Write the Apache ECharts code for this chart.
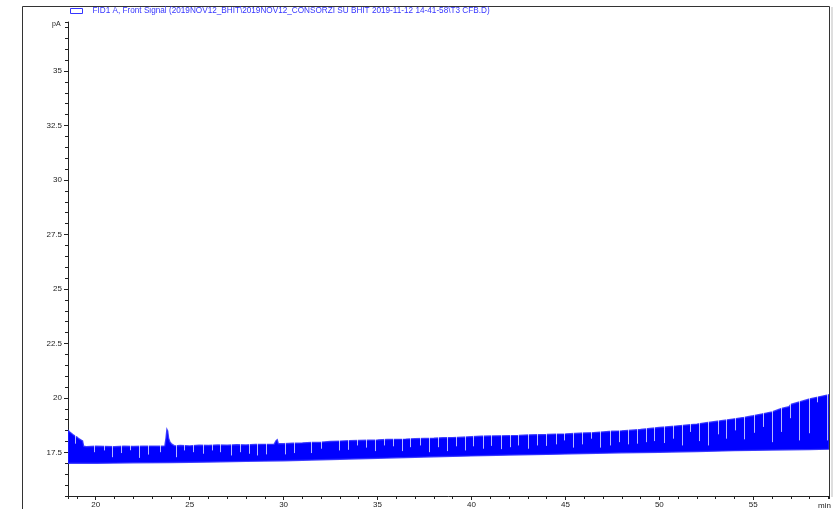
<!DOCTYPE html>
<html>
<head>
<meta charset="utf-8">
<script src="https://cdn.jsdelivr.net/npm/echarts@6/dist/echarts.min.js"></script>
<style>
  html, body { margin: 0; padding: 0; background: #ffffff; }
  #chart { width: 838px; height: 509px; }
</style>
</head>
<body>
<div id="chart"></div>
<script>
// FID1 A front signal trace, retention time in minutes vs. detector current in pA
const signalName = 'FID1 A, Front Signal (2019NOV12_BHIT\\2019NOV12_CONSORZI SU BHIT 2019-11-12 14-41-58\\T3 CFB.D)';
const timeRange = [18.525, 59.03];
const currentRange = [15.5, 37.25];

// top of the noise band [min, pA]
const upperEdge = [
  [18.525, 18.52], [18.6, 18.45], [18.7, 18.38], [18.8, 18.31], [18.9, 18.25], [19.0, 18.2],
  [19.1, 18.13], [19.2, 18.08], [19.3, 18.03], [19.36, 17.78], [19.5, 17.76], [20.0, 17.78],
  [20.5, 17.77], [21.0, 17.76], [21.5, 17.78], [22.0, 17.77], [22.5, 17.78], [23.0, 17.79],
  [23.5, 17.78], [23.68, 17.8], [23.74, 18.15], [23.79, 18.55], [23.83, 18.48], [23.88, 18.15],
  [23.95, 17.98], [24.05, 17.88], [24.2, 17.8], [24.5, 17.82], [25.0, 17.8], [25.5, 17.83],
  [26.0, 17.82], [26.5, 17.84], [27.0, 17.83], [27.5, 17.85], [28.0, 17.84], [28.5, 17.86],
  [29.0, 17.87], [29.5, 17.88], [29.6, 18.04], [29.66, 18.08], [29.72, 17.9], [30.0, 17.9],
  [30.5, 17.92], [31.0, 17.93], [31.5, 17.96], [32.0, 17.97], [32.5, 18.0], [33.0, 18.02],
  [33.5, 18.04], [34.0, 18.05], [34.5, 18.06], [35.0, 18.07], [35.5, 18.09], [36.0, 18.1],
  [36.5, 18.11], [37.0, 18.13], [37.5, 18.14], [38.0, 18.15], [38.5, 18.17], [39.0, 18.18],
  [39.5, 18.2], [40.0, 18.22], [40.5, 18.24], [41.0, 18.25], [41.5, 18.26], [42.0, 18.27],
  [42.5, 18.28], [43.0, 18.3], [43.5, 18.31], [44.0, 18.32], [44.5, 18.34], [45.0, 18.35],
  [45.5, 18.37], [46.0, 18.39], [46.5, 18.41], [47.0, 18.44], [47.5, 18.47], [48.0, 18.49],
  [48.5, 18.52], [49.0, 18.55], [49.5, 18.6], [50.0, 18.64], [50.5, 18.68], [51.0, 18.72],
  [51.5, 18.76], [52.0, 18.8], [52.5, 18.86], [53.0, 18.92], [53.5, 18.98], [54.0, 19.04],
  [54.5, 19.1], [55.0, 19.18], [55.5, 19.27], [56.0, 19.36], [56.5, 19.52], [56.9, 19.6],
  [57.0, 19.7], [57.5, 19.83], [58.0, 19.95], [58.5, 20.05], [59.03, 20.15]
];

// bottom of the noise band [min, pA]
const lowerEdge = [
  [18.525, 17.0], [20.0, 17.0], [22.0, 17.02], [24.0, 17.04], [26.0, 17.06], [28.0, 17.09],
  [30.0, 17.12], [32.0, 17.16], [34.0, 17.21], [36.0, 17.25], [38.0, 17.3], [40.0, 17.34],
  [42.0, 17.38], [44.0, 17.41], [46.0, 17.45], [48.0, 17.48], [50.0, 17.51], [52.0, 17.54],
  [54.0, 17.58], [56.0, 17.61], [58.0, 17.63], [59.03, 17.65]
];

// sampling dropouts: [min, lowest pA reached by the gap]
const dropouts = [
  [18.9, 17.9], [19.91, 17.51], [20.45, 17.59], [20.87, 17.28], [21.37, 17.47], [21.82, 17.6],
  [22.31, 17.25], [22.79, 17.4], [23.41, 17.51], [24.27, 17.28], [24.71, 17.59], [25.19, 17.51],
  [25.69, 17.44], [26.17, 17.59], [26.62, 17.51], [27.19, 17.36], [27.68, 17.51], [28.16, 17.44],
  [28.57, 17.36], [29.07, 17.41], [30.05, 17.41], [30.53, 17.47], [31.47, 17.47], [32.0, 17.67],
  [32.93, 17.59], [33.43, 17.62], [33.91, 17.82], [34.39, 17.72], [34.85, 17.56], [35.33, 17.82],
  [35.83, 17.78], [36.31, 17.56], [36.75, 17.74], [37.28, 17.82], [37.73, 17.51], [38.23, 17.74],
  [38.71, 17.56], [39.19, 17.78], [39.65, 17.59], [40.09, 17.78], [40.61, 17.67], [41.05, 17.8],
  [41.55, 17.65], [42.03, 17.74], [42.49, 17.82], [43.03, 17.67], [43.47, 17.82], [43.99, 17.8],
  [44.48, 17.87], [44.93, 18.05], [45.4, 17.72], [45.89, 17.87], [46.35, 18.13], [46.85, 17.72],
  [47.36, 17.82], [47.83, 17.97], [48.31, 17.87], [48.79, 17.9], [49.28, 17.97], [49.73, 18.02],
  [50.23, 17.93], [50.71, 18.13], [51.19, 17.82], [51.65, 18.44], [52.13, 18.02], [52.61, 17.82],
  [53.11, 18.33], [53.55, 18.13], [54.05, 18.51], [54.53, 18.1], [55.06, 18.4], [55.51, 18.67],
  [55.99, 17.97], [56.48, 18.44], [56.95, 19.07], [57.44, 18.05], [57.94, 18.38], [58.4, 19.8],
  [58.9, 18.05]
];

const traceBlue = '#0000ff';
const textBlue = '#3535ff';
const axisInk = '#222222';
const labelFont = 'Liberation Sans, Arial, sans-serif';

const chart = echarts.init(document.getElementById('chart'), null, { renderer: 'canvas' });

const hiddenAxisParts = {
  axisLine: { show: false },
  axisLabel: { show: false },
  splitLine: { show: false }
};

chart.setOption({
  animation: false,
  backgroundColor: '#ffffff',
  grid: { left: 68, right: 9, top: 22, bottom: 13, containLabel: false },
  legend: {
    data: [{
      name: signalName,
      icon: 'rect',
      itemStyle: { color: '#ffffff', borderColor: textBlue, borderWidth: 1 }
    }],
    left: 70,
    top: 7,
    padding: 0,
    itemWidth: 12,
    itemHeight: 5,
    itemGap: 8,
    selectedMode: false,
    textStyle: { color: textBlue, fontSize: 8.2, fontFamily: labelFont, padding: [0, 0, 0, 5] }
  },
  xAxis: [
    {
      type: 'value',
      min: timeRange[0],
      max: timeRange[1],
      minInterval: 5,
      maxInterval: 5,
      position: 'bottom',
      axisLine: { show: true, onZero: false, lineStyle: { color: axisInk, width: 1 } },
      axisTick: { show: true, length: 4, lineStyle: { color: axisInk } },
      axisLabel: {
        showMinLabel: false, showMaxLabel: false,
        fontSize: 8, fontFamily: labelFont, color: axisInk, margin: 5
      },
      splitLine: { show: false }
    },
    Object.assign({
      type: 'value',
      min: timeRange[0],
      max: timeRange[1],
      minInterval: 1,
      maxInterval: 1,
      position: 'bottom',
      offset: 0,
      axisTick: { show: true, length: 3, lineStyle: { color: axisInk } }
    }, hiddenAxisParts)
  ],
  yAxis: [
    {
      type: 'value',
      min: currentRange[0],
      max: currentRange[1],
      minInterval: 2.5,
      maxInterval: 2.5,
      position: 'left',
      axisLine: { show: true, onZero: false, lineStyle: { color: axisInk, width: 1 } },
      axisTick: { show: true, length: 4, lineStyle: { color: axisInk } },
      axisLabel: {
        showMinLabel: false, showMaxLabel: false,
        fontSize: 8, fontFamily: labelFont, color: axisInk, margin: 6
      },
      splitLine: { show: false }
    },
    Object.assign({
      type: 'value',
      min: currentRange[0],
      max: currentRange[1],
      interval: 0.5,
      position: 'left',
      offset: 0,
      axisTick: { show: true, length: 3, lineStyle: { color: axisInk } }
    }, hiddenAxisParts)
  ],
  graphic: [
    {
      type: 'polyline',
      silent: true,
      shape: { points: [[22.5, 509], [22.5, 6.5], [829.5, 6.5], [829.5, 497]] },
      style: { stroke: '#333333', fill: null, lineWidth: 1 }
    },
    {
      type: 'line',
      silent: true,
      shape: { x1: 832, y1: 7, x2: 832, y2: 497 },
      style: { stroke: '#dedede', lineWidth: 2 }
    },
    {
      type: 'text',
      silent: true,
      left: 52,
      top: 21,
      style: { text: 'pA', fontSize: 7, fontFamily: labelFont, fill: axisInk }
    },
    {
      type: 'text',
      silent: true,
      left: 818,
      top: 502,
      style: { text: 'min', fontSize: 8, fontFamily: labelFont, fill: axisInk }
    }
  ],
  series: [
    {
      name: signalName,
      type: 'custom',
      coordinateSystem: 'cartesian2d',
      xAxisIndex: 0,
      yAxisIndex: 0,
      clip: true,
      itemStyle: { color: traceBlue },
      data: [upperEdge[0]],
      renderItem: function (params, api) {
        const top = upperEdge.map(function (p) { return api.coord(p); });
        const bottom = lowerEdge.slice().reverse().map(function (p) { return api.coord(p); });
        return {
          type: 'polygon',
          shape: { points: top.concat(bottom) },
          style: { fill: traceBlue, stroke: 'rgba(40,40,255,0.85)', lineWidth: 1.4 }
        };
      }
    },
    {
      name: 'dropouts',
      type: 'custom',
      coordinateSystem: 'cartesian2d',
      xAxisIndex: 0,
      yAxisIndex: 0,
      clip: true,
      z: 3,
      data: dropouts,
      renderItem: function (params, api) {
        const low = api.coord([api.value(0), api.value(1)]);
        const high = api.coord([api.value(0), currentRange[1]]);
        const x = Math.round(low[0]) + 0.5;
        return {
          type: 'line',
          shape: { x1: x, y1: low[1], x2: x, y2: high[1] },
          style: { stroke: 'rgba(255,255,255,0.72)', lineWidth: 1 }
        };
      }
    }
  ]
});
</script>
</body>
</html>
